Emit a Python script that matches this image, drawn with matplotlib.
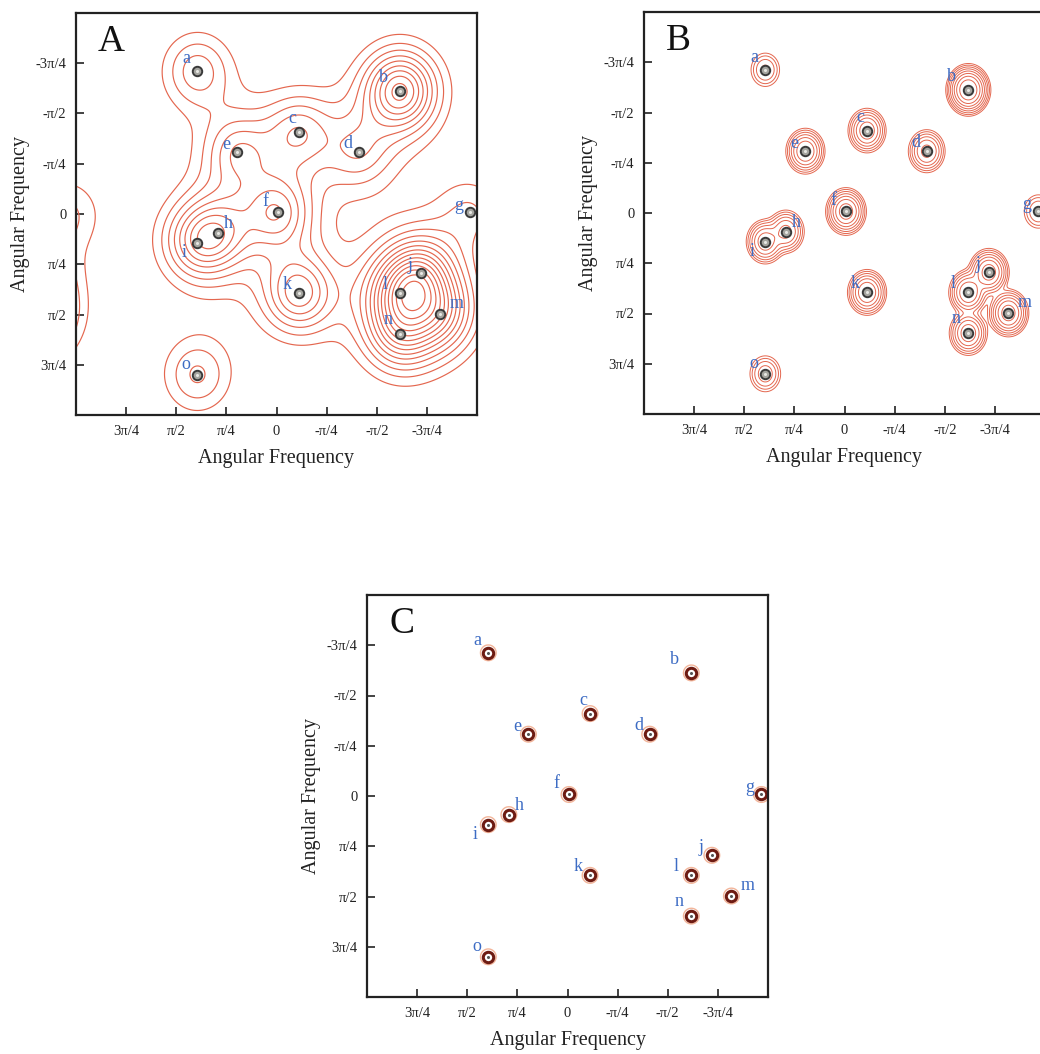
import numpy as np
import matplotlib
matplotlib.use("Agg")
import matplotlib.pyplot as plt

# ---------------- data ----------------
labels = list("abcdefghijklmno")
# peak positions in units of pi/4 (x = horizontal frequency, y = vertical frequency)
peak_x = [1.58, -2.47, -0.45, -1.64, 0.78, -0.03, -3.87, 1.17, 1.58, -2.88, -0.45, -2.47, -3.27, -2.47, 1.58]
peak_y = [-2.85, -2.45, -1.64, -1.23, -1.23, -0.03, -0.03, 0.37, 0.57, 1.18, 1.58, 1.58, 1.99, 2.39, 3.20]
# relative peak strengths of the three spectral estimates
amp_A = [2.2, 5.0, 2.4, 1.9, 2.4, 3.2, 1.3, 2.5, 2.5, 3.4, 3.6, 3.4, 2.9, 2.9, 2.0]
amp_B = [6, 90, 25, 20, 30, 40, 6, 20, 25, 40, 30, 30, 40, 25, 8]
amp_C = [1] * 15

tick_vals = [3, 2, 1, 0, -1, -2, -3]   # in pi/4
xtick_labels = ["3\u03c0/4", "\u03c0/2", "\u03c0/4", "0", "-\u03c0/4", "-\u03c0/2", "-3\u03c0/4"]
ytick_vals = [-3, -2, -1, 0, 1, 2, 3]
ytick_labels = ["-3\u03c0/4", "-\u03c0/2", "-\u03c0/4", "0", "\u03c0/4", "\u03c0/2", "3\u03c0/4"]

# label offsets (pixels) for peak letters
lab_dx = [-11, -17, -7, -11, -11, -13, -12, 11, -13, -11, -12, -15, 16, -12, -11]
lab_dy = [-12, -13, -13, -9, -8, -11, -7, -9, 10, -8, -9, -9, -10, -15, -10]

# ---------------- style ----------------
SERIF = ["Liberation Serif", "DejaVu Serif"]
plt.rcParams["font.family"] = SERIF
LINE_RED = "#e4674f"
LABEL_BLUE = "#3d6cc4"
q = np.pi / 4

W, H = 1040, 1054
fig = plt.figure(figsize=(W / 100, H / 100), dpi=100)

def ax_rect(left_px, top_px, w_px=401, h_px=402):
    return [left_px / W, 1 - (top_px + h_px) / H, w_px / W, h_px / H]

axA = fig.add_axes(ax_rect(76, 13))
axB = fig.add_axes(ax_rect(644, 12))
axC = fig.add_axes(ax_rect(367, 595))

n = 500
g = np.linspace(-np.pi, np.pi, n)
GX, GY = np.meshgrid(g, g)
px = np.array(peak_x) * q
py = np.array(peak_y) * q

def field(amps, kernel, wrap_x):
    F = np.zeros_like(GX)
    shifts = (-2 * np.pi, 0, 2 * np.pi) if wrap_x else (0,)
    for a, x0, y0 in zip(amps, px, py):
        for sx in shifts:
            F += a * kernel(GX - x0 - sx, GY - y0)
    return F

# panel A: low-resolution estimate (broad, heavy-tailed), linear levels
sAx, sAy, nu = 0.5 * q, 0.55 * q, 4.0
kA = lambda dx, dy: (1 + ((dx / sAx) ** 2 + (dy / sAy) ** 2) / (2 * nu)) ** (-nu)
FA = field(amp_A, kA, True)
levA = np.arange(0.95, FA.max(), 0.5)
axA.contour(GX, GY, FA, levels=levA, colors=LINE_RED, linewidths=0.85)

# panel B: narrow kernel
sBx, sBy = 0.15 * q, 0.175 * q
FB = field(amp_B, lambda dx, dy: np.exp(-dx ** 2 / (2 * sBx ** 2) - dy ** 2 / (2 * sBy ** 2)), False)
levB = np.exp(np.arange(0.0, np.log(FB.max()), 0.55))
axB.contour(GX, GY, FB, levels=levB, colors=LINE_RED, linewidths=0.7)

# panel C: very narrow kernel (faint halo only)
sC = 0.08 * q
FC = field(amp_C, lambda dx, dy: np.exp(-(dx ** 2 + dy ** 2) / (2 * sC ** 2)), False)
axC.contour(GX, GY, FC, levels=[0.15], colors="#f3b59a", linewidths=1.0)

def style(ax, letter):
    ax.set_xlim(np.pi, -np.pi)
    ax.set_ylim(np.pi, -np.pi)
    ax.set_xticks(np.array(tick_vals) * q)
    ax.set_xticklabels(xtick_labels)
    ax.set_yticks(np.array(ytick_vals) * q)
    ax.set_yticklabels(ytick_labels)
    ax.tick_params(direction="in", length=6, width=1.2, labelsize=10.5,
                   colors="#222222", pad=7)
    for s in ax.spines.values():
        s.set_linewidth(1.6)
        s.set_color("#222222")
    ax.set_xlabel("Angular Frequency", fontsize=14.5, color="#222222")
    ax.set_ylabel("Angular Frequency", fontsize=14.5, color="#222222")
    ax.xaxis.set_label_coords(0.5, -0.085)
    ax.yaxis.set_label_coords(-0.115, 0.5)
    ax.text(0.055, 0.905, letter, transform=ax.transAxes, fontsize=27,
            color="#111111", ha="left", va="baseline")
    for lab, x0, y0, dx, dy in zip(labels, px, py, lab_dx, lab_dy):
        ax.annotate(lab, (x0, y0), xytext=(dx, -dy), textcoords="offset pixels",
                    ha="center", va="center", fontsize=13, color=LABEL_BLUE)

for ax, L in ((axA, "A"), (axB, "B")):
    ax.plot(px, py, "o", ms=6.8, mfc="#a5a5a0", mec="#3a3a3a", mew=1.4, ls="none")
    ax.plot(px, py, "o", ms=2.2, mfc="#e8e8e4", mec="none", ls="none")
    style(ax, L)

axC.plot(px, py, "o", ms=7.5, mfc="white", mec="#6e1b12", mew=2.2, ls="none")
axC.plot(px, py, "o", ms=2.2, mfc="#555555", mec="none", ls="none")
style(axC, "C")

fig.savefig("out.png", dpi=100, facecolor="white")
